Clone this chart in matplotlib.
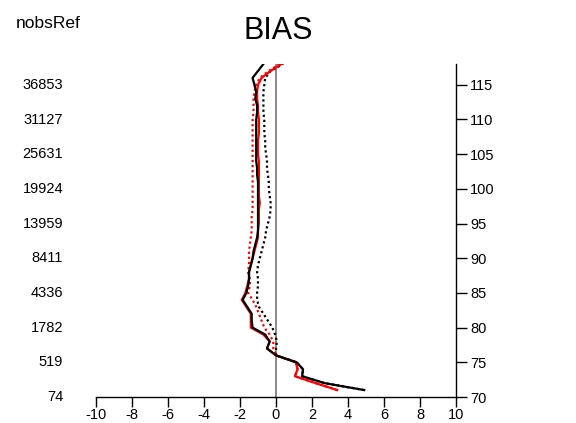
import matplotlib
matplotlib.use("Agg")
import matplotlib.pyplot as plt
from matplotlib.transforms import blended_transform_factory

plt.rcParams['font.family'] = ['Liberation Sans', 'DejaVu Sans']

# model levels
levels = list(range(71, 119))

black_solid = [4.9, 2.7, 1.45, 1.5, 1.15, 0.0, -0.5, -0.35, -0.6, -1.3,
               -1.35, -1.35, -1.6, -1.85, -1.65, -1.55, -1.5, -1.5, -1.4, -1.3,
               -1.25, -1.15, -1.05, -1.0, -1.0, -1.0, -1.0, -1.0, -1.0, -1.0,
               -1.0, -1.05, -1.05, -1.1, -1.1, -1.1, -1.1, -1.1, -1.1, -1.1,
               -1.05, -1.05, -1.15, -1.1, -1.2, -1.3, -1.0, -0.7]
red_solid = [3.4, 2.2, 1.05, 1.2, 1.1, 0.0, -0.5, -0.35, -0.7, -1.4,
             -1.4, -1.4, -1.65, -1.9, -1.7, -1.6, -1.5, -1.5, -1.4, -1.3,
             -1.2, -1.1, -1.0, -1.0, -0.95, -0.95, -0.95, -0.9, -0.95, -0.95,
             -0.95, -0.95, -0.95, -0.95, -1.0, -1.0, -1.0, -0.95, -0.95, -0.95,
             -1.0, -1.0, -1.05, -1.05, -1.0, -0.8, -0.3, 0.3]
red_dotted = [3.4, 2.2, 1.05, 1.2, 1.1, 0.0, -0.15, -0.15, -0.35, -0.65,
              -0.8, -0.95, -1.1, -1.3, -1.55, -1.45, -1.45, -1.55, -1.5, -1.5,
              -1.5, -1.45, -1.4, -1.35, -1.35, -1.35, -1.3, -1.3, -1.3, -1.3,
              -1.3, -1.3, -1.3, -1.3, -1.3, -1.3, -1.3, -1.3, -1.3, -1.3,
              -1.25, -1.25, -1.25, -1.2, -1.1, -0.9, -0.4, 0.2]
black_dotted = [4.9, 2.7, 1.45, 1.5, 1.15, 0.0, 0.0, 0.05, -0.05, -0.2,
                -0.45, -0.7, -0.95, -1.05, -1.05, -1.0, -1.0, -1.05, -1.0, -0.9,
                -0.8, -0.7, -0.6, -0.55, -0.45, -0.35, -0.3, -0.3, -0.35, -0.4,
                -0.4, -0.45, -0.5, -0.5, -0.55, -0.6, -0.6, -0.65, -0.65, -0.65,
                -0.7, -0.7, -0.7, -0.7, -0.65, -0.6, -0.3, 0.4]

tick_levels = [70, 75, 80, 85, 90, 95, 100, 105, 110, 115]
nobs = ['74', '519', '1782', '4336', '8411', '13959', '19924', '25631', '31127', '36853']
xticks = list(range(-10, 11, 2))

fig = plt.figure(figsize=(5.76, 4.23), dpi=100)
ax = fig.add_axes([96/576, 26/423, 360/576, 333/423])

ax.axvline(0, color='#808080', lw=1.3, zorder=1)
dots = (0, (1, 1.3))
ax.plot(black_dotted, levels, color='black', lw=1.6, ls=dots)
ax.plot(red_dotted, levels, color='red', lw=1.6, ls=dots)
ax.plot(red_solid, levels, color='red', lw=1.6)
ax.plot(black_solid, levels, color='black', lw=1.6)

ax.set_xlim(-10, 10)
ax.set_ylim(70, 118)
for s in ['left', 'top']:
    ax.spines[s].set_visible(False)
ax.spines['bottom'].set_linewidth(1.0)
ax.spines['right'].set_linewidth(1.0)

ax.set_xticks(xticks)
ax.set_xticklabels([str(v) for v in xticks])
ax.yaxis.tick_right()
ax.set_yticks(tick_levels)
ax.set_yticklabels([str(v) for v in tick_levels])
ax.tick_params(axis='x', direction='out', length=7, width=1, labelsize=10.5, pad=1)
ax.tick_params(axis='y', direction='out', length=8, width=1, labelsize=10.5, pad=2,
               colors='black')

trans = blended_transform_factory(fig.transFigure, ax.transData)
for lev, n in zip(tick_levels, nobs):
    ax.text(63/576, lev, n, transform=trans, ha='right', va='center', fontsize=10.5)

fig.text(48/576, 1 - 23/423, 'nobsRef', ha='center', va='center', fontsize=12.5)
fig.text(278/576, 1 - 31/423, 'BIAS', ha='center', va='center', fontsize=22)

fig.savefig('out.png', dpi=100)
